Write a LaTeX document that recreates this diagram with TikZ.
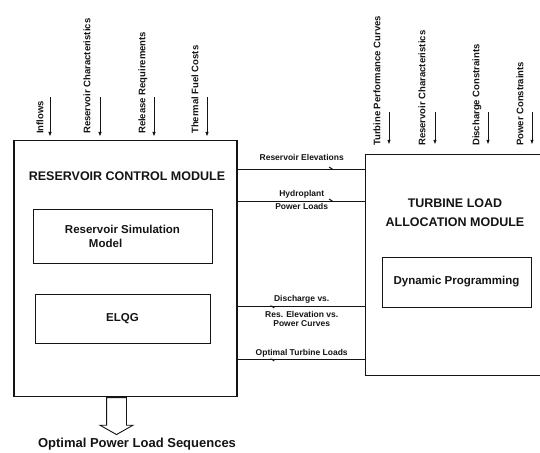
\documentclass[tikz,border=0pt]{standalone}
\usepackage{fontspec}
\setmainfont{Liberation Sans}
\usepackage{xcolor}
\usetikzlibrary{arrows.meta,positioning,calc,shapes.arrows,decorations.markings}
\definecolor{cInk}{HTML}{141414}
\tikzset{
  modbox/.style={draw=cInk,line width=1.2pt,inner sep=0pt},
  modline/.style={draw=cInk,line width=1.2pt},
  modtitle/.style={font=\bfseries\fontsize{12.5}{19}\selectfont,text=cInk,align=center,inner sep=0pt},
  subbox/.style={draw=cInk,line width=1pt,inner sep=0pt,font=\bfseries\fontsize{11.5}{14}\selectfont,text=cInk},
  inlbl/.style={font=\bfseries\fontsize{9.5}{11}\selectfont,text=cInk,rotate=90,anchor=west,inner sep=0pt},
  inarr/.style={-{Latex[length=5pt,width=3.5pt]},line width=1pt,color=cInk},
  link/.style={line width=1pt,color=cInk,postaction={decorate},
    decoration={markings,mark=at position 0.75 with {\arrow{Straight Barb[harpoon,length=3pt,width=4pt]}}}},
  linklbl/.style={font=\bfseries\fontsize{8.5}{9}\selectfont,text=cInk,align=center,inner sep=0pt},
  outarrow/.style={single arrow,draw=cInk,line width=0.9pt,shape border rotate=270,inner sep=9.5pt,
    minimum height=37pt,single arrow head extend=6.5pt,single arrow tip angle=121},
  outlbl/.style={font=\bfseries\fontsize{13}{15}\selectfont,text=cInk,inner sep=0pt},
}

\begin{document}
\begin{tikzpicture}[x=1pt,y=-1pt]
  \useasboundingbox (0,0) rectangle (540,452);
  % reservoir control module
  \node[modbox,minimum width=223pt,minimum height=256pt] (rcm) at (125.5,268.5) {};
  \node[modtitle] (rcmTitle) at (127,176) {RESERVOIR CONTROL MODULE};
  \node[subbox,minimum width=179pt,minimum height=54pt,align=left] (sim) at (122.5,236) {Reservoir Simulation\\\hspace*{24pt}Model};
  \node[subbox,minimum width=175pt,minimum height=49pt] (elqg) at (122.5,318.5) {ELQG};
  % turbine load allocation module (runs off the right edge)
  \node[minimum width=174pt,minimum height=220pt,inner sep=0pt] (tlam) at (453,265) {};
  \draw[modline] (tlam.north east) -- (tlam.north west) -- (tlam.south west) -- (tlam.south east);
  \node[modtitle] (tlamTitle) at (455,212.5) {TURBINE LOAD\\ALLOCATION MODULE};
  \node[subbox,minimum width=149pt,minimum height=50pt] (dp) at (456.5,282) {Dynamic Programming};
  % inputs
  \foreach \i/\tx/\ax/\txt in {1/40/50/Inflows,2/87/100/Reservoir Characteristics,3/143/154/Release Requirements,4/195/207/Thermal Fuel Costs}{
    \node[inlbl] (lblL\i) at (\tx,134) {\txt};
    \coordinate (inL\i) at (\ax,97);
    \draw[inarr,shorten >=3pt] (inL\i) -- (inL\i |- rcm.north);
  }
  \foreach \i/\tx/\ax/\txt in {1/377/389/Turbine Performance Curves,2/422/435/Reservoir Characteristics,3/477/488/Discharge Constraints,4/520/532/Power Constraints}{
    \node[inlbl] (lblR\i) at (\tx,146) {\txt};
    \coordinate (inR\i) at (\ax,112);
    \draw[inarr,shorten >=10pt] (inR\i) -- (inR\i |- tlam.north);
  }
  % links between the modules
  \coordinate (yElev) at (0,169);
  \coordinate (yLoad) at (0,201);
  \coordinate (yDis) at (0,306);
  \coordinate (yOpt) at (0,359);
  \draw[link] (rcm.east |- yElev) -- (tlam.west |- yElev) node[linklbl,midway,above=8pt] {Reservoir Elevations};
  \draw[link] (rcm.east |- yLoad) -- (tlam.west |- yLoad) node[linklbl,midway,above=2.5pt] {Hydroplant}
    node[linklbl,midway,below=2pt] {Power Loads};
  \draw[link] (tlam.west |- yDis) -- (rcm.east |- yDis) node[linklbl,midway,above=2pt] {Discharge vs.}
    node[linklbl,midway,below=5pt] {Res. Elevation vs.\\Power Curves};
  \draw[link] (tlam.west |- yOpt) -- (rcm.east |- yOpt) node[linklbl,midway,above=1.5pt] {Optimal Turbine Loads};
  % output
  \node[outarrow,anchor=tail] (out) at ([xshift=-9pt]rcm.south) {};
  \node[outlbl] (outTxt) at (137,444) {Optimal Power Load Sequences};
\end{tikzpicture}
\end{document}
